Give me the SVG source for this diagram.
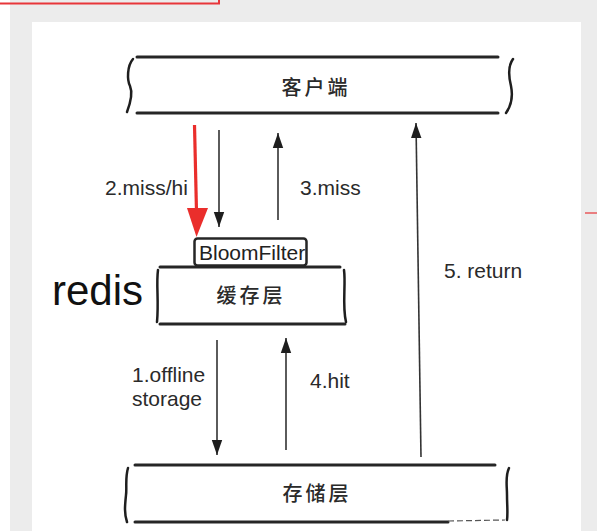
<svg xmlns="http://www.w3.org/2000/svg" width="597" height="531" viewBox="0 0 597 531">
<style>
.bar{stroke:#262626;stroke-width:3;fill:none;stroke-linecap:round}
.brace{stroke:#1e1e1e;stroke-width:2.5;fill:none;stroke-linecap:round}
.con{stroke:#333;stroke-width:1.6;fill:none}
.lbl{font-family:"Liberation Sans",Arial,sans-serif;font-size:21px;fill:#2a2a2a}
.cjk{font-family:"Noto Sans CJK SC","Noto Sans CJK TC",serif;font-size:20px;font-weight:500;fill:#2a2a2a;text-anchor:middle;letter-spacing:3px}
</style>
<defs>
<marker id="ah" markerUnits="userSpaceOnUse" markerWidth="16" markerHeight="12" viewBox="0 0 16 12" refX="15" refY="6" orient="auto">
<path d="M0,0.8 L15,6 L0,11.2 Z" fill="#1e1e1e"/>
</marker>
</defs>
<rect x="0" y="0" width="597" height="531" fill="#ffffff"/>
<rect x="10" y="0" width="587" height="531" fill="#ececec"/>
<rect x="32" y="22" width="549" height="509" fill="#ffffff"/>
<path d="M0,3.5 L219,3.5 L219,0" stroke="#e8363a" stroke-width="2" fill="none"/>
<line x1="585" y1="213" x2="597" y2="213" stroke="#e8363a" stroke-width="1.2"/>

<g id="client">
<line class="bar" x1="137" y1="57" x2="498" y2="57"/>
<line class="bar" x1="137" y1="113" x2="498" y2="113"/>
<path class="brace" d="M133,59 C127,66 127,80 130,86 C133,93 130,104 127,112"/>
<path class="brace" d="M513,59 C508,66 509,78 511,86 C513,96 511,106 506,113"/>
<text class="cjk" x="316" y="95">客户端</text>
</g>

<g id="cache">
<line class="bar" x1="160" y1="267" x2="340" y2="267"/>
<line class="bar" x1="160" y1="324" x2="345" y2="324"/>
<path class="brace" d="M158,270 C156,285 159,300 157,322"/>
<path class="brace" d="M344,270 C346,285 342,305 346,322"/>
<text class="cjk" x="251" y="303">缓存层</text>
</g>

<g id="bloomfilter">
<rect x="194.5" y="238.5" width="112" height="27" rx="3" fill="#fff" stroke="#262626" stroke-width="2.5"/>
<text class="lbl" x="199" y="260" style="fill:#222">BloomFilter</text>
</g>

<g id="redis">
<text x="52" y="305" style="font-family:'Liberation Sans',Arial,sans-serif;font-size:42px;fill:#111">redis</text>
</g>

<g id="storage">
<line class="bar" x1="135" y1="465" x2="495" y2="465"/>
<line class="bar" x1="135" y1="522" x2="448" y2="522"/>
<line x1="448" y1="521" x2="505" y2="520" stroke="#555" stroke-width="1.2" stroke-dasharray="6 3"/>
<path class="brace" d="M128,468 C125,478 127,488 126,495 C125,505 124,513 127,522"/>
<path class="brace" d="M509,468 C505,476 507,485 507,495 C507,505 508,513 507,520"/>
<text class="cjk" x="317" y="501">存储层</text>
</g>

<g id="connectors">
<line class="con" x1="219" y1="130" x2="219" y2="227" marker-end="url(#ah)"/>
<line class="con" x1="278" y1="220" x2="278" y2="133" marker-end="url(#ah)"/>
<line class="con" x1="421" y1="457" x2="416" y2="123" marker-end="url(#ah)"/>
<line class="con" x1="217" y1="340" x2="217" y2="455" marker-end="url(#ah)"/>
<line class="con" x1="286" y1="450" x2="286" y2="338" marker-end="url(#ah)"/>
<text class="lbl" x="105" y="195">2.miss/hi</text>
<text class="lbl" x="300" y="195">3.miss</text>
<text class="lbl" x="132" y="382">1.offline</text>
<text class="lbl" x="132" y="406">storage</text>
<text class="lbl" x="310" y="388">4.hit</text>
<text class="lbl" x="444" y="278">5. return</text>
<line x1="194.5" y1="125" x2="196.5" y2="212" stroke="#ea2e2c" stroke-width="3.2"/>
<path d="M187,208 L208,208 L196.5,237 Z" fill="#ea2e2c"/>
</g>
</svg>
